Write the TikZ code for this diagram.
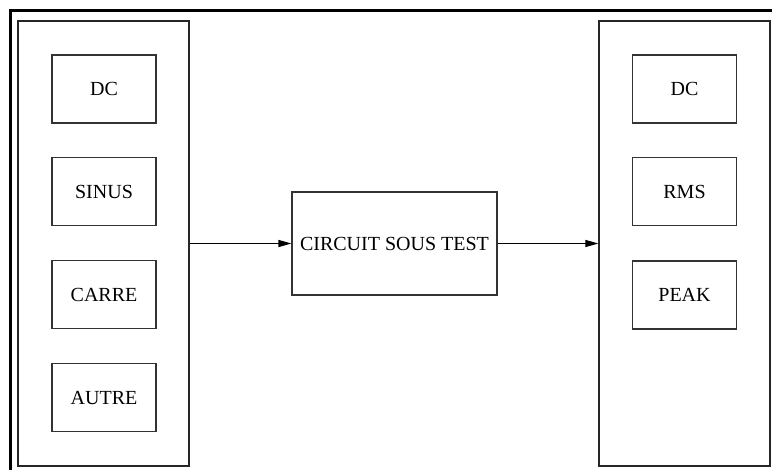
\documentclass[tikz,border=0pt]{standalone}
\usepackage{fontspec}
\setmainfont{Liberation Serif}
\usetikzlibrary{arrows.meta}
\tikzset{
  bigbox/.style={draw=black!85, line width=1.2pt, minimum width=171pt, minimum height=445pt, inner sep=0pt},
  smallbox/.style={draw=black!80, line width=1.1pt, minimum width=104pt, minimum height=68pt, inner sep=0pt, font=\fontsize{20}{24}\selectfont},
  dutbox/.style={draw=black!80, line width=1.1pt, minimum width=205pt, minimum height=103pt, inner sep=0pt, font=\fontsize{20}{24}\selectfont},
  link/.style={line width=1.1pt, -{Triangle[length=13pt,width=7pt]}},
}
\begin{document}
\begin{tikzpicture}[x=1pt,y=-1pt]
\useasboundingbox (0,0) rectangle (772,470);
\clip (0,0) rectangle (772,470);
\fill[white] (0,0) rectangle (772,470);
\draw[line width=2.6pt] (10.5,480) -- (10.5,10.5) -- (790,10.5);
\node[bigbox] (L) at (103.5,243.5) {};
\node[bigbox] (R) at (684.5,243.5) {};
\node[dutbox] (C) at (394.5,243.5) {CIRCUIT SOUS TEST};
\node[smallbox] (l1) at (104,89) {DC};
\node[smallbox] (l2) at (104,191.5) {SINUS};
\node[smallbox] (l3) at (104,294.5) {CARRE};
\node[smallbox] (l4) at (104,397.5) {AUTRE};
\node[smallbox] (r1) at (684.5,89) {DC};
\node[smallbox] (r2) at (684.5,191.5) {RMS};
\node[smallbox] (r3) at (684.5,295) {PEAK};
\draw[link] (L.east) -- (C.west);
\draw[link] (C.east) -- (R.west);
\end{tikzpicture}
\end{document}
